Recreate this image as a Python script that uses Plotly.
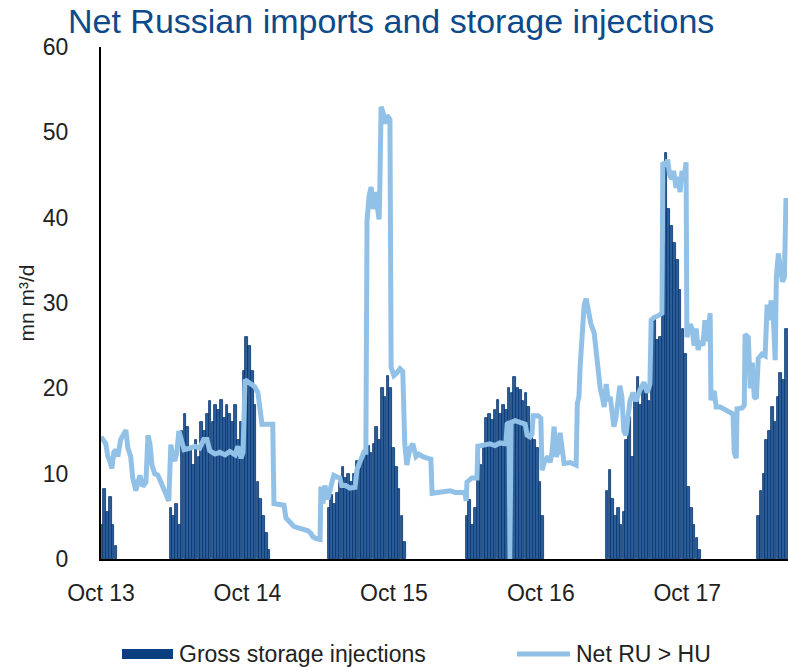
import pandas as pd
import plotly.graph_objects as go

# ---- Gross storage injections (weekly, mn m3/d), one list per injection season ----
inj_2013_start = "2013-10-03"
inj_2013 = [4, 8.2, 5.5, 7.3, 4, 1.5]

inj_2014_start = "2014-03-24"
inj_2014 = [6, 5, 6.5, 4, 15, 17, 15.5, 13, 11, 14, 12, 16, 15, 17, 18.5, 16, 18, 17.5,
            18.6, 16.5, 18, 17, 16, 18, 14, 16, 22, 26, 25, 22, 18, 9, 7, 5, 3, 1]

inj_2015_start = "2015-04-22"
inj_2015 = [6, 7.5, 6.5, 7.7, 9, 10.8, 9.5, 10, 9, 10, 11.5, 10.5, 11.8, 12.5, 13.2, 12.4,
            13.5, 15.5, 14, 20, 19, 21.5, 20, 13, 10.8, 8.2, 5, 2]

inj_2016_start = "2016-03-31"
inj_2016 = [5, 6.9, 4, 6, 12, 11, 13, 16.5, 17, 16.3, 17.5, 18.6, 17, 18, 17.5, 20, 19.5,
            21.3, 20, 19.8, 18.5, 19.5, 17.8, 15.5, 14, 13, 9, 5]

inj_2017_start = "2017-03-15"
inj_2017 = [8, 10.4, 7, 5, 6, 4, 5.5, 14, 16.6, 12, 19, 21.3, 18, 20, 19.5, 18.5, 27, 28,
            25.7, 26, 37, 47.6, 41, 39, 37, 35, 31.5, 27, 24, 8.4, 6, 4, 2.5, 1]

inj_2018_start = "2018-03-27"
inj_2018 = [5, 8, 10, 14, 15, 17.8, 16, 19, 21.8, 21, 27]

# ---- Net flow Russia -> Hungary (mn m3/d) ----
net_dates = [
    "2013-10-01", "2013-10-06", "2013-10-13", "2013-10-18", "2013-10-23", "2013-10-28",
    "2013-11-02", "2013-11-07", "2013-11-12", "2013-11-19", "2013-11-27", "2013-12-02",
    "2013-12-07", "2013-12-14", "2013-12-19", "2013-12-27", "2014-01-01", "2014-01-06",
    "2014-01-13", "2014-01-21", "2014-01-26", "2014-01-31", "2014-02-05", "2014-02-12",
    "2014-02-20", "2014-02-27", "2014-03-07", "2014-03-14", "2014-03-19", "2014-03-24",
    "2014-03-29", "2014-04-03", "2014-04-08", "2014-04-13", "2014-04-18", "2014-04-26",
    "2014-05-11", "2014-05-23", "2014-06-04", "2014-06-14", "2014-06-22", "2014-06-29",
    "2014-07-12", "2014-07-24", "2014-08-06", "2014-08-18", "2014-08-31", "2014-09-07",
    "2014-09-15", "2014-09-20", "2014-09-25", "2014-10-07", "2014-10-19", "2014-10-27",
    "2014-11-01", "2014-11-06", "2014-11-21", "2014-12-03", "2014-12-06", "2014-12-21",
    "2014-12-31", "2015-01-05", "2015-01-15", "2015-01-25", "2015-02-09", "2015-02-19",
    "2015-03-01", "2015-03-08", "2015-03-13", "2015-03-21", "2015-03-31", "2015-04-02",
    "2015-04-07", "2015-04-12", "2015-04-19", "2015-04-27", "2015-05-04", "2015-05-12",
    "2015-05-19", "2015-05-24", "2015-06-03", "2015-06-13", "2015-06-26", "2015-07-01",
    "2015-07-08", "2015-07-18", "2015-07-23", "2015-07-26", "2015-07-31", "2015-08-05",
    "2015-08-10", "2015-08-15", "2015-08-20", "2015-08-25", "2015-08-27", "2015-08-30",
    "2015-09-04", "2015-09-09", "2015-09-14", "2015-09-21", "2015-09-24", "2015-10-01",
    "2015-10-08", "2015-10-16", "2015-10-23", "2015-10-28", "2015-11-02", "2015-11-10",
    "2015-11-17", "2015-11-25", "2015-12-02", "2015-12-12", "2015-12-25", "2016-01-01",
    "2016-01-04", "2016-01-24", "2016-02-05", "2016-02-18", "2016-03-01", "2016-03-14",
    "2016-03-26", "2016-03-29", "2016-03-31", "2016-04-12", "2016-04-25", "2016-04-27",
    "2016-05-15", "2016-05-27", "2016-06-09", "2016-06-21", "2016-07-06", "2016-07-09",
    "2016-07-14", "2016-07-16", "2016-07-19", "2016-07-29", "2016-08-10", "2016-08-23",
    "2016-08-28", "2016-09-04", "2016-09-09", "2016-09-12", "2016-09-24", "2016-10-01",
    "2016-10-04", "2016-10-11", "2016-10-19", "2016-10-24", "2016-10-29", "2016-11-03",
    "2016-11-08", "2016-11-13", "2016-11-18", "2016-11-23", "2016-11-28", "2016-12-13",
    "2016-12-28", "2016-12-31", "2017-01-04", "2017-01-07", "2017-01-12", "2017-01-17",
    "2017-01-22", "2017-01-27", "2017-02-03", "2017-02-11", "2017-02-16", "2017-02-21",
    "2017-02-26", "2017-03-03", "2017-03-08", "2017-03-13", "2017-03-18", "2017-03-23",
    "2017-03-28", "2017-04-01", "2017-04-06", "2017-04-11", "2017-04-16", "2017-04-21",
    "2017-04-26", "2017-05-01", "2017-05-06", "2017-05-11", "2017-05-19", "2017-05-26",
    "2017-06-05", "2017-06-15", "2017-06-23", "2017-06-30", "2017-07-03", "2017-07-10",
    "2017-07-20", "2017-07-30", "2017-08-01", "2017-08-08", "2017-08-13", "2017-08-18",
    "2017-08-23", "2017-08-28", "2017-09-03", "2017-09-08", "2017-09-13", "2017-09-18",
    "2017-09-23", "2017-09-28", "2017-09-30", "2017-10-08", "2017-10-13", "2017-10-18",
    "2017-10-23", "2017-10-28", "2017-11-02", "2017-11-09", "2017-11-14", "2017-11-19",
    "2017-11-27", "2017-11-29", "2017-12-07", "2017-12-12", "2017-12-22", "2018-01-03",
    "2018-01-16", "2018-01-23", "2018-01-26", "2018-01-31", "2018-02-02", "2018-02-15",
    "2018-02-20", "2018-02-22", "2018-03-02", "2018-03-07", "2018-03-12", "2018-03-17",
    "2018-03-22", "2018-03-27", "2018-04-05", "2018-04-13", "2018-04-18", "2018-04-23",
    "2018-04-28", "2018-05-03", "2018-05-08", "2018-05-11", "2018-05-16", "2018-05-21",
    "2018-05-26", "2018-05-31", "2018-06-02", "2018-06-04",
]
net_values = [
    14.3, 14, 13.5, 12, 11.5, 10.6,
    12.5, 12.8, 12, 14, 14.8, 15.1,
    13, 12, 9.5, 8, 9, 9.8,
    8.5, 9, 14.5, 13.5, 11, 10,
    9.8, 9, 8.2, 7.5, 6.8, 13.4,
    12, 11.5, 12.5, 15, 14, 12.8,
    13, 13.2, 13, 14, 14, 12.7,
    12.3, 12.5, 12.2, 12.6, 12.2, 13.2,
    11.8, 12.5, 21, 20.6, 20.2, 19.5,
    17.5, 15.8, 15.8, 15.8, 6.5, 6.4,
    6.3, 4.8, 4.2, 3.8, 3.6, 3.5,
    3.3, 3.0, 2.6, 2.4, 2.3, 8.5,
    6.5, 8.6, 7, 8.5, 9.8, 9.6,
    9.5, 8.6, 8.6, 8.3, 8.4, 10.5,
    11.5, 12.5, 12.5, 39.7, 42.5, 43.6,
    41, 43, 41.5, 39.8, 44, 53,
    52.3, 51, 52, 51.5, 22.5, 21.5,
    21.8, 22.3, 22, 13.5, 11, 13,
    13.5, 12, 12.3, 12, 11.8, 11.7,
    7.7, 7.9, 8.0, 8.0, 7.8, 7.8,
    7.8, 6.8, 9.0, 9.5, 9.5, 13.2,
    13.4, 13.5, 13.3, 13.6, 13.5, 15.8,
    16, 0, 16, 16.2, 16, 15.8,
    14.5, 14.3, 14.6, 16.8, 16.8, 16.5,
    10.4, 11.5, 12, 11.3, 12.5, 15.5,
    12, 12.5, 14.8, 12.5, 11.2, 11.3,
    11, 18.2, 19, 22.5, 26, 29.8,
    30.5, 29, 27.5, 26.5, 24.5, 21.5,
    20, 19, 17.8, 20.5, 18.5, 19,
    17.5, 15.5, 16.5, 19, 20.3, 19,
    15, 14.5, 17, 18.5, 19.5, 18.5,
    19.8, 20.7, 19.5, 20.5, 28, 28.3,
    28.5, 28.8, 46.5, 46, 46.8, 45,
    44.5, 45.5, 43.5, 44.8, 43, 45.5,
    44.5, 46.5, 26, 27.5, 27, 25,
    27, 24.5, 25.5, 25, 28, 25.5,
    28.8, 18.6, 19.7, 17.8, 17.8, 17.5,
    17.3, 17, 12.5, 11.8, 17.6, 17.7,
    18, 26.3, 26, 20, 23, 19,
    18.8, 23.5, 24, 23.8, 29.8, 28,
    30.3, 29, 23.3, 33, 35.8, 34,
    32.5, 33, 41.5, 42.3,
]

# ---- Axis labelling ----
y_ticks = [0, 10, 20, 30, 40, 50, 60]
x_tick_dates = ["2013-10-01", "2014-10-01", "2015-10-01", "2016-10-01", "2017-10-01"]
x_tick_labels = ["Oct 13", "Oct 14", "Oct 15", "Oct 16", "Oct 17"]

BAR_COLOR = "#0b3f7f"
BAR_FILL = "#2b5d9b"
LINE_COLOR = "#92c1e8"
TEXT_FONT = "Liberation Sans, Arial, sans-serif"

seasons = [
    (inj_2013_start, inj_2013), (inj_2014_start, inj_2014), (inj_2015_start, inj_2015),
    (inj_2016_start, inj_2016), (inj_2017_start, inj_2017), (inj_2018_start, inj_2018),
]
bar_x, bar_y = [], []
for start, vals in seasons:
    bar_x += list(pd.date_range(start, periods=len(vals), freq="7D"))
    bar_y += vals

fig = go.Figure()
fig.add_trace(go.Bar(
    x=bar_x, y=bar_y, name="Gross storage injections",
    marker=dict(color=BAR_FILL, line=dict(width=0.8, color="#08356c")),
    width=6.6 * 86400000, showlegend=False,
))
fig.add_trace(go.Scatter(
    x=pd.to_datetime(net_dates), y=net_values, name="Net RU > HU", mode="lines",
    line=dict(color=LINE_COLOR, width=5), showlegend=False,
))

W, H = 788, 667
L, R, T, B = 101, 0, 47, 108
pw, ph = W - L - R, H - T - B


def px_x(px):
    return (px - L) / pw


def px_y(py):
    return (H - B - py) / ph


# legend drawn as shapes + text along the bottom
legend_y = 654
fig.add_shape(type="rect", xref="paper", yref="paper",
              x0=px_x(122), x1=px_x(173), y0=px_y(legend_y + 5), y1=px_y(legend_y - 5),
              fillcolor=BAR_COLOR, line=dict(width=0))
fig.add_shape(type="line", xref="paper", yref="paper",
              x0=px_x(517), x1=px_x(570), y0=px_y(legend_y), y1=px_y(legend_y),
              line=dict(color=LINE_COLOR, width=5))
fig.add_annotation(text="Gross storage injections", xref="paper", yref="paper",
                   x=px_x(177), y=px_y(legend_y), xanchor="left", yanchor="middle",
                   showarrow=False, font=dict(size=23, color="#222222", family=TEXT_FONT))
fig.add_annotation(text="Net RU > HU", xref="paper", yref="paper",
                   x=px_x(574), y=px_y(legend_y), xanchor="left", yanchor="middle",
                   showarrow=False, font=dict(size=23, color="#222222", family=TEXT_FONT))

fig.update_layout(
    width=W, height=H,
    margin=dict(l=L, r=R, t=T, b=B),
    paper_bgcolor="white", plot_bgcolor="white",
    bargap=0,
    title=dict(text="Net Russian imports and storage injections",
               x=68 / W, xanchor="left", xref="container",
               y=1 - 21 / H, yanchor="middle", yref="container",
               font=dict(size=34, color="#0c4a8b", family=TEXT_FONT)),
    font=dict(family=TEXT_FONT, color="#222222"),
)
fig.update_xaxes(
    type="date", range=["2013-10-01", "2018-06-09"],
    tickvals=x_tick_dates, ticktext=x_tick_labels,
    tickfont=dict(size=23, color="#222222"),
    ticks="", ticklabelstandoff=12,
    showgrid=False, zeroline=False,
    showline=True, linecolor="black", linewidth=2,
)
fig.update_yaxes(
    range=[0, 60], tickvals=y_ticks,
    tickfont=dict(size=23, color="#222222"),
    ticks="", ticklabelstandoff=26,
    showgrid=False, zeroline=False,
    showline=True, linecolor="black", linewidth=2,
    title=dict(text="mn m³/d", font=dict(size=21, color="#222222"), standoff=2),
)

fig.write_html("out.html")
